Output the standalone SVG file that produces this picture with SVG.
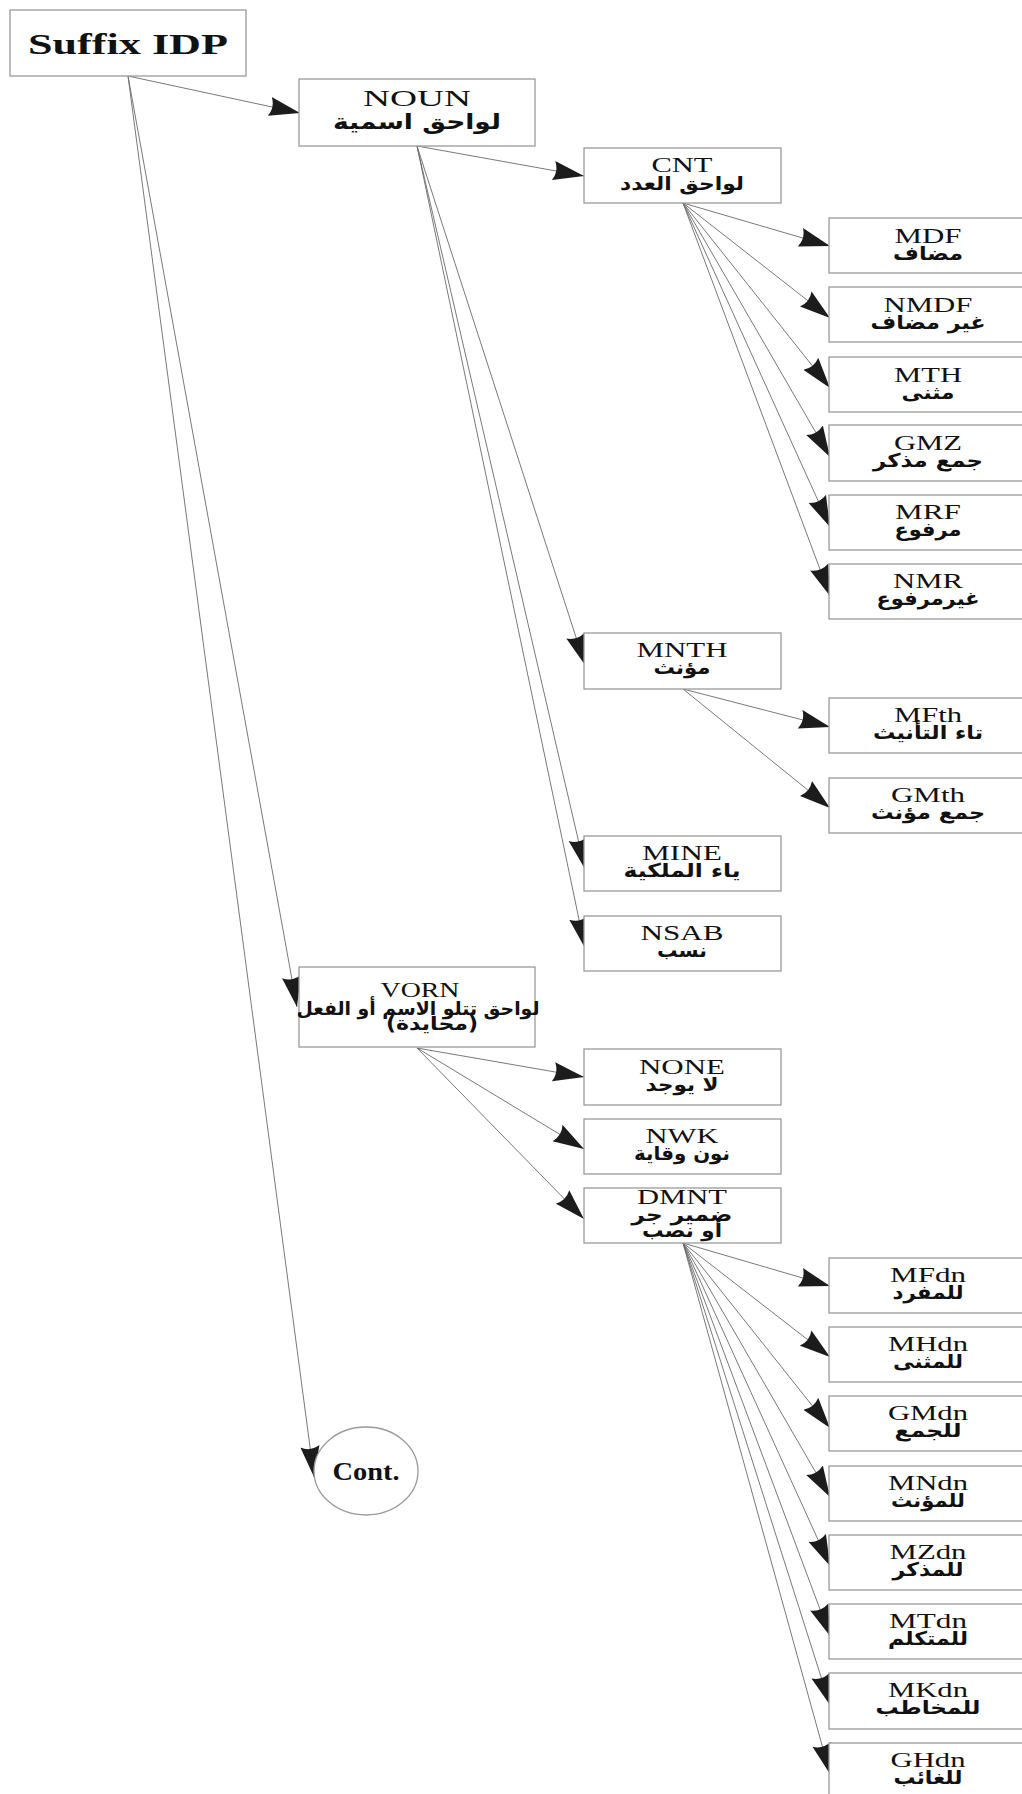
<svg xmlns="http://www.w3.org/2000/svg" width="1022" height="1794" viewBox="0 0 1022 1794">
<style>
.box{fill:#fff;stroke:#9a9a9a;stroke-width:1.3}
.en{font-family:"Liberation Serif","Times New Roman",serif;font-size:22px;fill:#111;text-anchor:middle}
.ar{font-family:"DejaVu Sans","Noto Sans",sans-serif;font-weight:bold;font-size:19px;fill:#111;text-anchor:middle}
.ttl{font-family:"Liberation Serif","Times New Roman",serif;font-weight:bold;font-size:30px;fill:#111;text-anchor:middle}
.cn line{stroke:#6a6a6a;stroke-width:0.9;fill:none;marker-end:url(#ah)}
</style>
<defs>
<marker id="ah" markerUnits="userSpaceOnUse" markerWidth="32" markerHeight="20" viewBox="0 0 30 18" refX="29" refY="9" orient="auto">
<path d="M0,0 L29,9 L0,18 Q5,9 0,0 Z" fill="#1c1c1c"/>
</marker>
</defs>
<rect width="1022" height="1794" fill="#fff"/>

<g id="connectors" class="cn">
<line x1="128" y1="76" x2="300" y2="113"/>
<line x1="128" y1="76" x2="297" y2="1007"/>
<line x1="128" y1="76" x2="314" y2="1477"/>
<line x1="417" y1="146" x2="584" y2="176"/>
<line x1="417" y1="146" x2="585" y2="665"/>
<line x1="417" y1="146" x2="585" y2="869"/>
<line x1="417" y1="146" x2="585" y2="948"/>
<line x1="683" y1="203" x2="830" y2="246"/>
<line x1="683" y1="203" x2="830" y2="318"/>
<line x1="683" y1="203" x2="830" y2="388"/>
<line x1="683" y1="203" x2="830" y2="457"/>
<line x1="683" y1="203" x2="830" y2="527"/>
<line x1="683" y1="203" x2="830" y2="596"/>
<line x1="683" y1="689" x2="830" y2="727"/>
<line x1="683" y1="689" x2="830" y2="808"/>
<line x1="417" y1="1048" x2="584" y2="1077"/>
<line x1="417" y1="1048" x2="584" y2="1149"/>
<line x1="417" y1="1048" x2="584" y2="1219"/>
<line x1="683" y1="1243" x2="830" y2="1286"/>
<line x1="683" y1="1243" x2="830" y2="1357"/>
<line x1="683" y1="1243" x2="830" y2="1428"/>
<line x1="683" y1="1243" x2="830" y2="1497"/>
<line x1="683" y1="1243" x2="830" y2="1566"/>
<line x1="683" y1="1243" x2="830" y2="1636"/>
<line x1="683" y1="1243" x2="830" y2="1705"/>
<line x1="683" y1="1243" x2="830" y2="1774"/>
</g>

<g id="suffix"><rect class="box" x="10" y="10" width="236" height="66"/><text class="ttl" x="128" y="54" textLength="200" lengthAdjust="spacingAndGlyphs">Suffix IDP</text></g>

<g id="noun"><rect class="box" x="299" y="79" width="236" height="67"/>
<text class="en" x="417" y="106" style="font-size:24px" textLength="108" lengthAdjust="spacingAndGlyphs">NOUN</text>
<text class="ar" x="417" y="129" style="font-size:21px" textLength="168" lengthAdjust="spacingAndGlyphs">لواحق اسمية</text></g>

<g id="cnt"><rect class="box" x="584" y="148" width="197" height="55"/>
<text class="en" x="682" y="172" textLength="61" lengthAdjust="spacingAndGlyphs">CNT</text>
<text class="ar" x="682" y="190" textLength="124" lengthAdjust="spacingAndGlyphs">لواحق العدد</text></g>

<g id="mdf"><rect class="box" x="829" y="218" width="198" height="55"/>
<text class="en" x="928" y="243" textLength="67" lengthAdjust="spacingAndGlyphs">MDF</text>
<text class="ar" x="928" y="260" textLength="70" lengthAdjust="spacingAndGlyphs">مضاف</text></g>

<g id="nmdf"><rect class="box" x="829" y="287" width="198" height="55"/>
<text class="en" x="928" y="312" textLength="89" lengthAdjust="spacingAndGlyphs">NMDF</text>
<text class="ar" x="928" y="329" textLength="115" lengthAdjust="spacingAndGlyphs">غير مضاف</text></g>

<g id="mth"><rect class="box" x="829" y="357" width="198" height="55"/>
<text class="en" x="928" y="382" textLength="68" lengthAdjust="spacingAndGlyphs">MTH</text>
<text class="ar" x="928" y="399" textLength="53" lengthAdjust="spacingAndGlyphs">مثنى</text></g>

<g id="gmz"><rect class="box" x="829" y="425" width="198" height="56"/>
<text class="en" x="928" y="450" textLength="68" lengthAdjust="spacingAndGlyphs">GMZ</text>
<text class="ar" x="928" y="467" textLength="110" lengthAdjust="spacingAndGlyphs">جمع مذكر</text></g>

<g id="mrf"><rect class="box" x="829" y="495" width="198" height="55"/>
<text class="en" x="928" y="519" textLength="66" lengthAdjust="spacingAndGlyphs">MRF</text>
<text class="ar" x="928" y="536" textLength="67" lengthAdjust="spacingAndGlyphs">مرفوع</text></g>

<g id="nmr"><rect class="box" x="829" y="564" width="198" height="55"/>
<text class="en" x="928" y="588" textLength="70" lengthAdjust="spacingAndGlyphs">NMR</text>
<text class="ar" x="928" y="605" textLength="103" lengthAdjust="spacingAndGlyphs">غيرمرفوع</text></g>

<g id="mnth"><rect class="box" x="584" y="633" width="197" height="56"/>
<text class="en" x="682" y="657" textLength="91" lengthAdjust="spacingAndGlyphs">MNTH</text>
<text class="ar" x="682" y="674" textLength="57" lengthAdjust="spacingAndGlyphs">مؤنث</text></g>

<g id="mfth"><rect class="box" x="829" y="698" width="198" height="55"/>
<text class="en" x="928" y="722" textLength="68" lengthAdjust="spacingAndGlyphs">MFth</text>
<text class="ar" x="928" y="739" textLength="110" lengthAdjust="spacingAndGlyphs">تاء التأنيث</text></g>

<g id="gmth"><rect class="box" x="829" y="778" width="198" height="55"/>
<text class="en" x="928" y="802" textLength="74" lengthAdjust="spacingAndGlyphs">GMth</text>
<text class="ar" x="928" y="819" textLength="114" lengthAdjust="spacingAndGlyphs">جمع مؤنث</text></g>

<g id="mine"><rect class="box" x="584" y="836" width="197" height="55"/>
<text class="en" x="682" y="860" textLength="80" lengthAdjust="spacingAndGlyphs">MINE</text>
<text class="ar" x="682" y="877" textLength="117" lengthAdjust="spacingAndGlyphs">ياء الملكية</text></g>

<g id="nsab"><rect class="box" x="584" y="916" width="197" height="55"/>
<text class="en" x="682" y="940" textLength="83" lengthAdjust="spacingAndGlyphs">NSAB</text>
<text class="ar" x="682" y="957" textLength="50" lengthAdjust="spacingAndGlyphs">نسب</text></g>

<g id="vorn"><rect class="box" x="299" y="967" width="236" height="80"/>
<text class="en" x="420" y="997" textLength="79" lengthAdjust="spacingAndGlyphs">VORN</text>
<text class="ar" x="418" y="1015" textLength="243" lengthAdjust="spacingAndGlyphs">لواحق تتلو الاسم أو الفعل</text>
<text class="ar" x="432" y="1030" textLength="92" lengthAdjust="spacingAndGlyphs">(محايدة)</text></g>

<g id="none"><rect class="box" x="584" y="1049" width="197" height="56"/>
<text class="en" x="682" y="1074" textLength="86" lengthAdjust="spacingAndGlyphs">NONE</text>
<text class="ar" x="682" y="1091" textLength="73" lengthAdjust="spacingAndGlyphs">لا يوجد</text></g>

<g id="nwk"><rect class="box" x="584" y="1119" width="197" height="55"/>
<text class="en" x="682" y="1143" textLength="73" lengthAdjust="spacingAndGlyphs">NWK</text>
<text class="ar" x="682" y="1160" textLength="96" lengthAdjust="spacingAndGlyphs">نون وقاية</text></g>

<g id="dmnt"><rect class="box" x="584" y="1188" width="197" height="55"/>
<text class="en" x="682" y="1204" textLength="90" lengthAdjust="spacingAndGlyphs">DMNT</text>
<text class="ar" x="682" y="1221" textLength="101" lengthAdjust="spacingAndGlyphs">ضمير جر</text>
<text class="ar" x="682" y="1237" textLength="80" lengthAdjust="spacingAndGlyphs">أو نصب</text></g>

<g id="mfdn"><rect class="box" x="829" y="1258" width="198" height="55"/>
<text class="en" x="928" y="1282" textLength="76" lengthAdjust="spacingAndGlyphs">MFdn</text>
<text class="ar" x="928" y="1299" textLength="71" lengthAdjust="spacingAndGlyphs">للمفرد</text></g>

<g id="mhdn"><rect class="box" x="829" y="1327" width="198" height="55"/>
<text class="en" x="928" y="1351" textLength="80" lengthAdjust="spacingAndGlyphs">MHdn</text>
<text class="ar" x="928" y="1368" textLength="70" lengthAdjust="spacingAndGlyphs">للمثنى</text></g>

<g id="gmdn"><rect class="box" x="829" y="1396" width="198" height="55"/>
<text class="en" x="928" y="1420" textLength="80" lengthAdjust="spacingAndGlyphs">GMdn</text>
<text class="ar" x="928" y="1437" textLength="67" lengthAdjust="spacingAndGlyphs">للجمع</text></g>

<g id="mndn"><rect class="box" x="829" y="1466" width="198" height="55"/>
<text class="en" x="928" y="1490" textLength="80" lengthAdjust="spacingAndGlyphs">MNdn</text>
<text class="ar" x="928" y="1507" textLength="74" lengthAdjust="spacingAndGlyphs">للمؤنث</text></g>

<g id="mzdn"><rect class="box" x="829" y="1535" width="198" height="55"/>
<text class="en" x="928" y="1559" textLength="77" lengthAdjust="spacingAndGlyphs">MZdn</text>
<text class="ar" x="928" y="1576" textLength="71" lengthAdjust="spacingAndGlyphs">للمذكر</text></g>

<g id="mtdn"><rect class="box" x="829" y="1604" width="198" height="55"/>
<text class="en" x="928" y="1628" textLength="78" lengthAdjust="spacingAndGlyphs">MTdn</text>
<text class="ar" x="928" y="1645" textLength="80" lengthAdjust="spacingAndGlyphs">للمتكلم</text></g>

<g id="mkdn"><rect class="box" x="829" y="1673" width="198" height="56"/>
<text class="en" x="928" y="1697" textLength="80" lengthAdjust="spacingAndGlyphs">MKdn</text>
<text class="ar" x="928" y="1714" textLength="105" lengthAdjust="spacingAndGlyphs">للمخاطب</text></g>

<g id="ghdn"><rect class="box" x="829" y="1743" width="198" height="55"/>
<text class="en" x="928" y="1767" textLength="75" lengthAdjust="spacingAndGlyphs">GHdn</text>
<text class="ar" x="928" y="1784" textLength="69" lengthAdjust="spacingAndGlyphs">للغائب</text></g>

<g id="cont"><ellipse class="box" cx="366" cy="1471" rx="52" ry="44"/>
<text class="en" x="366" y="1480" style="font-size:26px;font-weight:bold" textLength="67" lengthAdjust="spacingAndGlyphs">Cont.</text></g>
</svg>
